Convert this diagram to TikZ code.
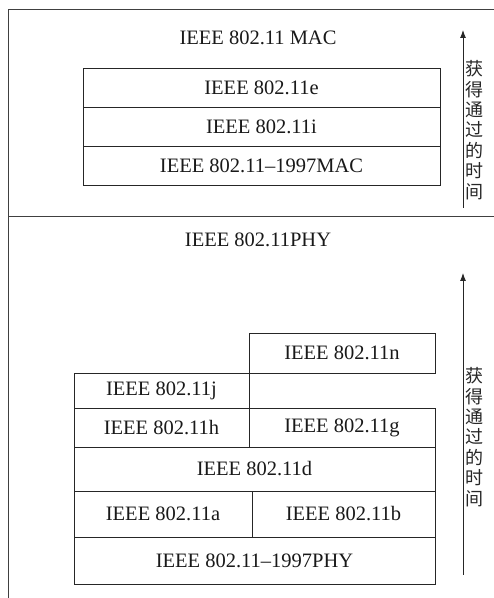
\documentclass[tikz,border=0pt]{standalone}
\usepackage{fontspec}
\setmainfont{Liberation Serif}
\newfontfamily\cjk{Noto Sans CJK SC}
\usepackage{xcolor}
\usepackage{tikz}
\usetikzlibrary{arrows.meta,positioning,calc}

\begin{document}
\begin{tikzpicture}[
    x=1pt, y=1pt,
    block/.style={rectangle, draw=black!85, line width=0.9pt, outer sep=0pt, inner sep=0pt, minimum height=39pt, align=center, font=\fontsize{20.5}{24}\selectfont, text=black!90},
    title/.style={font=\fontsize{20.5}{24}\selectfont, text=black!90},
    vlabel/.style={align=center, inner sep=0pt, font=\cjk\fontsize{18}{20.4}\selectfont, text=black!85},
    arrow/.style={line width=0.9pt, draw=black!85, -{Latex[length=8pt,width=6pt]}}
]
\useasboundingbox (0,0) rectangle (494,598);

% Frame
\draw [line width=0.9pt, black!75] (494,589) -- (8,589) -- (8,0);
\draw [line width=0.9pt, black!75] (8,382) -- (494,382);

% MAC part
\node (mactitle) [title] at (258,560) {IEEE 802.11 MAC};
\node (mace) [block, minimum width=357pt] at (261.5,510.5) {IEEE 802.11e};
\node (maci) [block, minimum width=357pt, below=0pt of mace] {IEEE 802.11i};
\node (mac97) [block, minimum width=357pt, below=0pt of maci] {IEEE 802.11--1997MAC};

% PHY part
\node (phytitle) [title] at (258,358) {IEEE 802.11PHY};
\node (phy97) [block, minimum width=361pt, minimum height=47pt] at (254.5,37.5) {IEEE 802.11--1997PHY};
\node (phya) [block, minimum width=178pt, minimum height=46pt, above right=0pt and 0pt of phy97.north west] {IEEE 802.11a};
\node (phyb) [block, minimum width=183pt, minimum height=46pt, above left=0pt and 0pt of phy97.north east] {IEEE 802.11b};
\node (phyd) [block, minimum width=361pt, minimum height=44pt, above right=0pt and 0pt of phya.north west] {IEEE 802.11d};
\node (phyh) [block, minimum width=175pt, above right=0pt and 0pt of phyd.north west] {IEEE 802.11h};
\node (phyg) [block, minimum width=186pt, above left=0pt and 0pt of phyd.north east] {IEEE 802.11g};
\node (phyj) [block, minimum width=175pt, minimum height=35pt, above right=0pt and 0pt of phyh.north west] {IEEE 802.11j};
\node (phyn) [block, minimum width=186pt, minimum height=40pt, anchor=south east] at (phyg.north east |- phyj.north) {IEEE 802.11n};

% Time arrows
\coordinate (mac start) at (463,390);
\coordinate (mac end) at (463,568);
\coordinate (phy start) at (463,23);
\coordinate (phy end) at (463,325);
\draw [arrow] (mac start) -- (mac end);
\draw [arrow] (phy start) -- (phy end);
\node (maclabel) [vlabel] at (474,468) {获\\得\\通\\过\\的\\时\\间};
\node (phylabel) [vlabel] at (474,161) {获\\得\\通\\过\\的\\时\\间};

\end{tikzpicture}
\end{document}
